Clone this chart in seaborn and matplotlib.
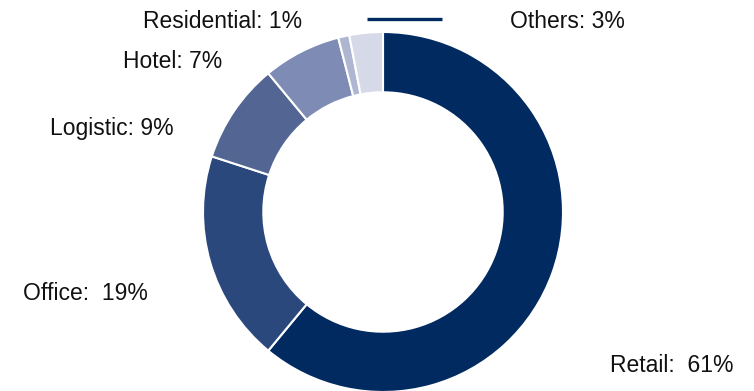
import matplotlib
matplotlib.use('Agg')
import matplotlib.pyplot as plt
import seaborn as sns

# data
sectors = ['Retail', 'Office', 'Logistic', 'Hotel', 'Residential', 'Others']
shares = [61, 19, 9, 7, 1, 3]
labels = ['Retail:  61%', 'Office:  19%', 'Logistic: 9%', 'Hotel: 7%',
          'Residential: 1%', 'Others: 3%']
colors = ['#002A60', '#2B487D', '#536592', '#7E8BB4', '#AEB6D1', '#D6DAE8']

sns.set_theme(style='white')
plt.rcParams['font.family'] = ['Liberation Sans', 'DejaVu Sans']

W, H = 754, 391
cx, cy, R = 383, 212, 180   # donut centre / radius in pixels


def px(x, y):
    # pixel (from top-left) -> data units of the pie
    return (x - cx) / R, (cy - y) / R


fig = plt.figure(figsize=(W / 100, H / 100), dpi=100)
ax = fig.add_axes([0, 0, 1, 1])

ax.pie(shares, colors=colors, startangle=90, counterclock=False, radius=1,
       wedgeprops=dict(width=0.335, edgecolor='white', linewidth=1.5))

ax.set_xlim(-cx / R, (W - cx) / R)
ax.set_ylim(-(H - cy) / R, cy / R)
ax.set_aspect('equal')
ax.axis('off')

# label positions (pixel centre x, baseline y)
label_pos = [(672, 372), (85, 300), (112, 135), (173, 68), (223, 28), (567, 28)]
for text, (x, y) in zip(labels, label_pos):
    tx, ty = px(x, y)
    ax.text(tx, ty, text, ha='center', va='baseline', fontsize=16.5, color='#111111')

# short dark line at the top
x0, y0 = px(367, 19)
x1, y1 = px(442, 19)
ax.plot([x0, x1], [y0, y1], color='#002A60', lw=2.4, solid_capstyle='butt')

fig.savefig('out.png', dpi=100)
